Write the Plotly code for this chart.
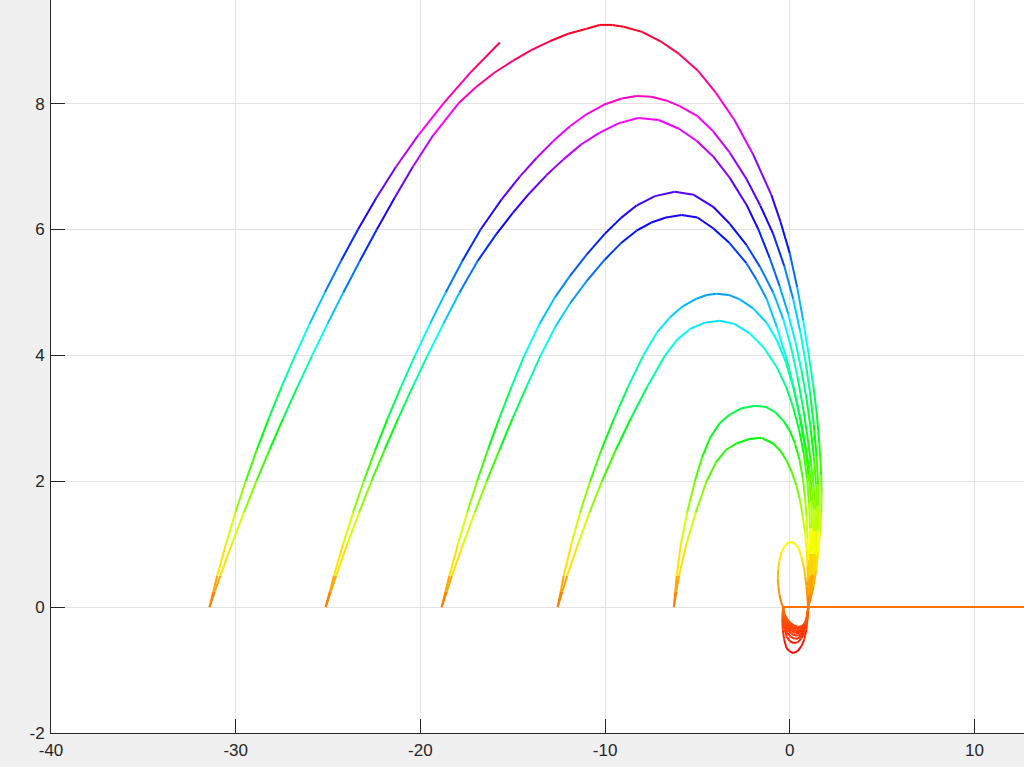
import colorsys
import plotly.graph_objects as go

# ---------------- tick definitions ----------------
x_ticks = [-40, -30, -20, -10, 0, 10]
x_tick_labels = ['-40', '-30', '-20', '-10', '0', '10']
y_ticks = [-2, 0, 2, 4, 6, 8]
y_tick_labels = ['-2', '0', '2', '4', '6', '8']

# ---------------- curves: (x, y) points ----------------
curve_a = [(-31.42, 0.0), (-31.21, 0.25), (-31.0, 0.5), (-30.53, 1.0), (-30.02, 1.5), (-29.46, 2.0),
           (-28.86, 2.5), (-28.21, 3.0), (-27.52, 3.5), (-26.78, 4.0), (-26.0, 4.5), (-25.17, 5.0),
           (-24.3, 5.5), (-23.38, 6.0), (-22.39, 6.5), (-21.31, 7.0), (-20.11, 7.5), (-18.76, 8.0),
           (-17.27, 8.5), (-15.7, 8.97)]

curve_b = [(-31.42, 0.0), (-31.13, 0.25), (-30.83, 0.5), (-30.21, 1.0), (-29.56, 1.5), (-28.88, 2.0),
           (-28.17, 2.5), (-27.43, 3.0), (-26.66, 3.5), (-25.86, 4.0), (-25.03, 4.5), (-24.17, 5.0),
           (-23.28, 5.5), (-22.36, 6.0), (-21.4, 6.5), (-20.4, 7.0), (-19.3, 7.5), (-17.95, 8.0),
           (-17.0, 8.26), (-16.0, 8.49), (-15.0, 8.68), (-14.0, 8.85), (-13.0, 8.99), (-12.0, 9.11),
           (-11.0, 9.19), (-10.3, 9.25), (-9.6, 9.25), (-9.0, 9.22), (-8.0, 9.14), (-7.0, 8.99),
           (-6.0, 8.79), (-5.0, 8.53), (-4.0, 8.17), (-3.0, 7.74), (-2.0, 7.2), (-1.0, 6.55),
           (-0.5, 6.12), (0.0, 5.62), (0.4, 5.08), (0.72, 4.56), (1.0, 4.05), (1.26, 3.55),
           (1.45, 3.1), (1.6, 2.6), (1.7, 2.1), (1.72, 1.8), (1.7, 1.5), (1.64, 1.2), (1.55, 0.9),
           (1.43, 0.6), (1.28, 0.32), (1.12, 0.12), (0.99, 0.0),
           (0.96, -0.18), (0.9, -0.36), (0.78, -0.52), (0.63, -0.62), (0.42, -0.7), (0.18, -0.73),
           (-0.02, -0.7), (-0.18, -0.65), (-0.3, -0.52), (-0.38, -0.36), (-0.41, -0.18), (-0.36, 0.0)]

curve_c = [(-25.13, 0.0), (-24.9, 0.25), (-24.68, 0.5), (-24.19, 1.0), (-23.65, 1.5), (-23.07, 2.0),
           (-22.44, 2.5), (-21.77, 3.0), (-21.05, 3.5), (-20.29, 4.0), (-19.48, 4.5), (-18.63, 5.0),
           (-17.73, 5.5), (-16.74, 6.0), (-15.6, 6.48), (-14.62, 6.84), (-13.7, 7.14), (-12.82, 7.4),
           (-11.9, 7.64), (-11.01, 7.83), (-10.0, 7.99), (-9.1, 8.08), (-8.3, 8.12), (-7.5, 8.11),
           (-6.7, 8.05), (-5.96, 7.96), (-5.0, 7.8), (-4.15, 7.56), (-3.25, 7.22), (-2.34, 6.8),
           (-1.6, 6.38), (-0.9, 5.93), (-0.3, 5.42), (0.18, 4.9), (0.55, 4.4), (0.85, 3.9),
           (1.1, 3.4), (1.3, 2.9), (1.45, 2.4), (1.53, 1.95), (1.55, 1.6), (1.52, 1.2), (1.44, 0.82),
           (1.32, 0.5), (1.16, 0.22), (1.0, 0.0),
           (0.96, -0.15), (0.9, -0.28), (0.78, -0.4), (0.62, -0.5), (0.42, -0.56), (0.2, -0.57),
           (0.0, -0.54), (-0.16, -0.47), (-0.28, -0.36), (-0.36, -0.22), (-0.38, -0.1), (-0.36, 0.0)]

curve_d = [(-25.13, 0.0), (-24.85, 0.25), (-24.56, 0.5), (-23.96, 1.0), (-23.32, 1.5), (-22.65, 2.0),
           (-21.94, 2.5), (-21.2, 3.0), (-20.42, 3.5), (-19.61, 4.0), (-18.76, 4.5), (-17.88, 5.0),
           (-16.9, 5.5), (-15.88, 5.93), (-14.98, 6.27), (-14.08, 6.58), (-13.18, 6.86), (-12.27, 7.11),
           (-11.3, 7.35), (-10.29, 7.54), (-9.25, 7.69), (-8.21, 7.77), (-7.1, 7.74), (-6.0, 7.6),
           (-5.05, 7.41), (-4.15, 7.16), (-3.25, 6.82), (-2.34, 6.39), (-1.7, 6.0), (-1.08, 5.54),
           (-0.55, 5.1), (-0.09, 4.66), (0.3, 4.22), (0.62, 3.78), (0.9, 3.32), (1.12, 2.86),
           (1.3, 2.4), (1.42, 1.95), (1.46, 1.6), (1.45, 1.25), (1.39, 0.88), (1.29, 0.54),
           (1.15, 0.24), (1.0, 0.0),
           (0.96, -0.13), (0.9, -0.25), (0.79, -0.36), (0.64, -0.45), (0.45, -0.5), (0.24, -0.5),
           (0.04, -0.47), (-0.13, -0.41), (-0.26, -0.31), (-0.34, -0.19), (-0.37, -0.09), (-0.36, 0.0)]

curve_e = [(-18.85, 0.0), (-18.64, 0.25), (-18.43, 0.5), (-17.97, 1.0), (-17.47, 1.5), (-16.93, 2.0),
           (-16.35, 2.5), (-15.73, 3.0), (-15.07, 3.5), (-14.37, 4.0), (-13.55, 4.5), (-12.7, 4.93),
           (-11.91, 5.26), (-11.0, 5.6), (-10.02, 5.93), (-9.15, 6.18), (-8.3, 6.38), (-7.3, 6.53),
           (-6.23, 6.6), (-5.2, 6.55), (-4.15, 6.36), (-3.25, 6.09), (-2.34, 5.75), (-1.6, 5.4),
           (-0.9, 5.0), (-0.36, 4.58), (0.05, 4.15), (0.4, 3.68), (0.7, 3.2), (0.95, 2.72),
           (1.15, 2.28), (1.3, 1.9), (1.38, 1.55), (1.4, 1.2), (1.35, 0.85), (1.25, 0.52),
           (1.12, 0.24), (1.0, 0.0),
           (0.96, -0.12), (0.9, -0.23), (0.8, -0.33), (0.66, -0.41), (0.48, -0.45), (0.28, -0.45),
           (0.08, -0.42), (-0.1, -0.36), (-0.24, -0.27), (-0.33, -0.17), (-0.37, -0.08), (-0.36, 0.0)]

curve_f = [(-18.85, 0.0), (-18.57, 0.25), (-18.29, 0.5), (-17.69, 1.0), (-17.06, 1.5), (-16.41, 2.0),
           (-15.72, 2.5), (-15.01, 3.0), (-14.26, 3.5), (-13.49, 4.0), (-12.7, 4.45), (-11.91, 4.82),
           (-11.0, 5.18), (-10.02, 5.52), (-9.15, 5.78), (-8.3, 5.98), (-7.5, 6.11), (-6.7, 6.19),
           (-5.86, 6.23), (-5.0, 6.19), (-4.15, 6.02), (-3.25, 5.78), (-2.34, 5.46), (-1.8, 5.2),
           (-1.26, 4.9), (-0.7, 4.45), (-0.2, 3.97), (0.2, 3.5), (0.55, 3.02), (0.82, 2.6),
           (1.05, 2.2), (1.2, 1.85), (1.28, 1.55), (1.31, 1.2), (1.28, 0.85), (1.2, 0.52),
           (1.1, 0.24), (1.0, 0.0),
           (0.96, -0.11), (0.9, -0.21), (0.8, -0.3), (0.67, -0.37), (0.5, -0.41), (0.3, -0.41),
           (0.1, -0.38), (-0.08, -0.33), (-0.22, -0.25), (-0.32, -0.16), (-0.36, -0.07), (-0.36, 0.0)]

curve_g = [(-12.57, 0.0), (-12.4, 0.25), (-12.24, 0.5), (-11.83, 1.0), (-11.36, 1.5), (-10.81, 2.0),
           (-10.2, 2.5), (-9.51, 3.0), (-8.76, 3.5), (-7.93, 4.0), (-7.2, 4.36), (-6.5, 4.6),
           (-5.8, 4.78), (-5.05, 4.9), (-4.5, 4.96), (-3.97, 4.98), (-3.3, 4.96), (-2.71, 4.89),
           (-2.0, 4.75), (-1.26, 4.52), (-0.7, 4.24), (-0.2, 3.88), (0.2, 3.48), (0.55, 3.02),
           (0.82, 2.55), (1.02, 2.1), (1.15, 1.68), (1.21, 1.25), (1.2, 0.85), (1.13, 0.5),
           (1.06, 0.22), (1.0, 0.0),
           (0.96, -0.1), (0.9, -0.2), (0.81, -0.28), (0.68, -0.34), (0.52, -0.38), (0.32, -0.38),
           (0.12, -0.35), (-0.06, -0.3), (-0.2, -0.23), (-0.31, -0.15), (-0.36, -0.07), (-0.36, 0.0)]

curve_h = [(-12.57, 0.0), (-12.31, 0.25), (-12.05, 0.5), (-11.47, 1.0), (-10.85, 1.5), (-10.17, 2.0),
           (-9.42, 2.5), (-8.6, 3.0), (-7.72, 3.5), (-6.75, 4.0), (-6.1, 4.25), (-5.4, 4.42),
           (-4.6, 4.52), (-3.79, 4.55), (-3.0, 4.5), (-2.17, 4.35), (-1.4, 4.12), (-0.72, 3.82),
           (-0.2, 3.5), (0.18, 3.18), (0.5, 2.82), (0.75, 2.45), (0.93, 2.05), (1.04, 1.65),
           (1.1, 1.25), (1.1, 0.85), (1.07, 0.5), (1.03, 0.22), (1.0, 0.0),
           (0.96, -0.09), (0.91, -0.18), (0.82, -0.26), (0.7, -0.32), (0.54, -0.35), (0.35, -0.35),
           (0.15, -0.33), (-0.04, -0.28), (-0.19, -0.21), (-0.3, -0.14), (-0.35, -0.06), (-0.36, 0.0)]

curve_i = [(-6.28, 0.0), (-6.2, 0.25), (-6.12, 0.5), (-5.9, 1.0), (-5.56, 1.5), (-5.14, 2.0),
           (-4.75, 2.38), (-4.3, 2.7), (-3.8, 2.92), (-3.25, 3.06), (-2.6, 3.16), (-1.89, 3.2),
           (-1.3, 3.18), (-0.8, 3.1), (-0.35, 2.96), (0.0, 2.8), (0.28, 2.6), (0.52, 2.35),
           (0.7, 2.05), (0.82, 1.75), (0.9, 1.45), (0.96, 1.1), (1.0, 0.75), (1.02, 0.45),
           (1.02, 0.2), (1.0, 0.0),
           (0.97, -0.09), (0.92, -0.17), (0.84, -0.25), (0.72, -0.3), (0.56, -0.33), (0.38, -0.33),
           (0.18, -0.31), (-0.01, -0.27), (-0.17, -0.2), (-0.29, -0.13), (-0.35, -0.06), (-0.36, 0.0)]

curve_j = [(-6.28, 0.0), (-6.14, 0.25), (-6.0, 0.5), (-5.6, 1.0), (-5.1, 1.5), (-4.51, 2.0),
           (-4.0, 2.3), (-3.45, 2.5), (-2.89, 2.6), (-2.2, 2.67), (-1.53, 2.69), (-0.9, 2.6),
           (-0.5, 2.48), (-0.18, 2.33), (0.1, 2.15), (0.36, 1.93), (0.55, 1.7), (0.7, 1.45),
           (0.82, 1.18), (0.9, 0.92), (0.96, 0.65), (0.99, 0.4), (1.0, 0.18), (1.0, 0.0),
           (0.97, -0.08), (0.92, -0.16), (0.85, -0.23), (0.74, -0.28), (0.59, -0.31), (0.41, -0.31),
           (0.22, -0.29), (0.03, -0.25), (-0.14, -0.19), (-0.27, -0.12), (-0.34, -0.06), (-0.36, 0.0)]

small_loop = [(-0.36, 0.0), (-0.47, 0.08), (-0.56, 0.2), (-0.62, 0.33), (-0.65, 0.45), (-0.63, 0.6),
              (-0.56, 0.74), (-0.45, 0.87), (-0.3, 0.96), (-0.12, 1.02), (0.09, 1.035), (0.3, 1.0),
              (0.48, 0.93), (0.63, 0.8), (0.75, 0.65), (0.84, 0.48), (0.9, 0.33), (0.95, 0.17), (0.99, 0.0)]

tail = [(-0.36, 0.0), (15.0, 0.0)]

curves = [curve_a, curve_b, curve_c, curve_d, curve_e, curve_f, curve_g, curve_h,
          curve_i, curve_j, small_loop, tail]

# ---------------- colour by height (hsv colormap) ----------------
all_y = [p[1] for c in curves for p in c]
y_lo, y_hi = min(all_y), max(all_y)
n_bins = 200

groups = {}
for c in curves:
    for (x0, y0), (x1, y1) in zip(c[:-1], c[1:]):
        h = (0.5 * (y0 + y1) - y_lo) / (y_hi - y_lo)
        k = max(0, min(n_bins - 1, int(round(h * (n_bins - 1)))))
        gx, gy = groups.setdefault(k, ([], []))
        gx.extend([x0, x1, None])
        gy.extend([y0, y1, None])


def hsv_hex(h):
    r, g, b = colorsys.hsv_to_rgb(h % 1.0, 1.0, 1.0)
    return '#%02x%02x%02x' % (int(round(r * 255)), int(round(g * 255)), int(round(b * 255)))


fig = go.Figure()
for k in sorted(groups):
    gx, gy = groups[k]
    fig.add_trace(go.Scatter(
        x=gx, y=gy, mode='lines',
        line=dict(color=hsv_hex(k / (n_bins - 1) * 0.985), width=2),
        hoverinfo='skip', showlegend=False,
    ))

axis_color = '#262626'
grid_color = '#e3e3e3'
font = dict(family='Liberation Sans, Arial, sans-serif', size=17, color=axis_color)

fig.update_layout(
    width=1024, height=767,
    margin=dict(l=51, r=0, t=0, b=34, pad=0),
    paper_bgcolor='#f0f0f0', plot_bgcolor='#ffffff',
    showlegend=False,
    xaxis=dict(range=[-40, 12.68], tickvals=x_ticks, ticktext=x_tick_labels,
               showgrid=True, gridcolor=grid_color, gridwidth=1, zeroline=False,
               showline=True, linecolor=axis_color, linewidth=1,
               ticks='inside', ticklen=14, tickcolor=axis_color, tickwidth=1,
               tickfont=font, ticklabelstandoff=2),
    yaxis=dict(range=[-2, 9.646], tickvals=y_ticks, ticktext=y_tick_labels,
               showgrid=True, gridcolor=grid_color, gridwidth=1, zeroline=False,
               showline=True, linecolor=axis_color, linewidth=1,
               ticks='inside', ticklen=14, tickcolor=axis_color, tickwidth=1,
               tickfont=font, ticklabelstandoff=2),
)

fig.write_html("out.html", config={'displayModeBar': False},
               post_script="document.body.style.margin='0';document.body.style.overflow='hidden';")
